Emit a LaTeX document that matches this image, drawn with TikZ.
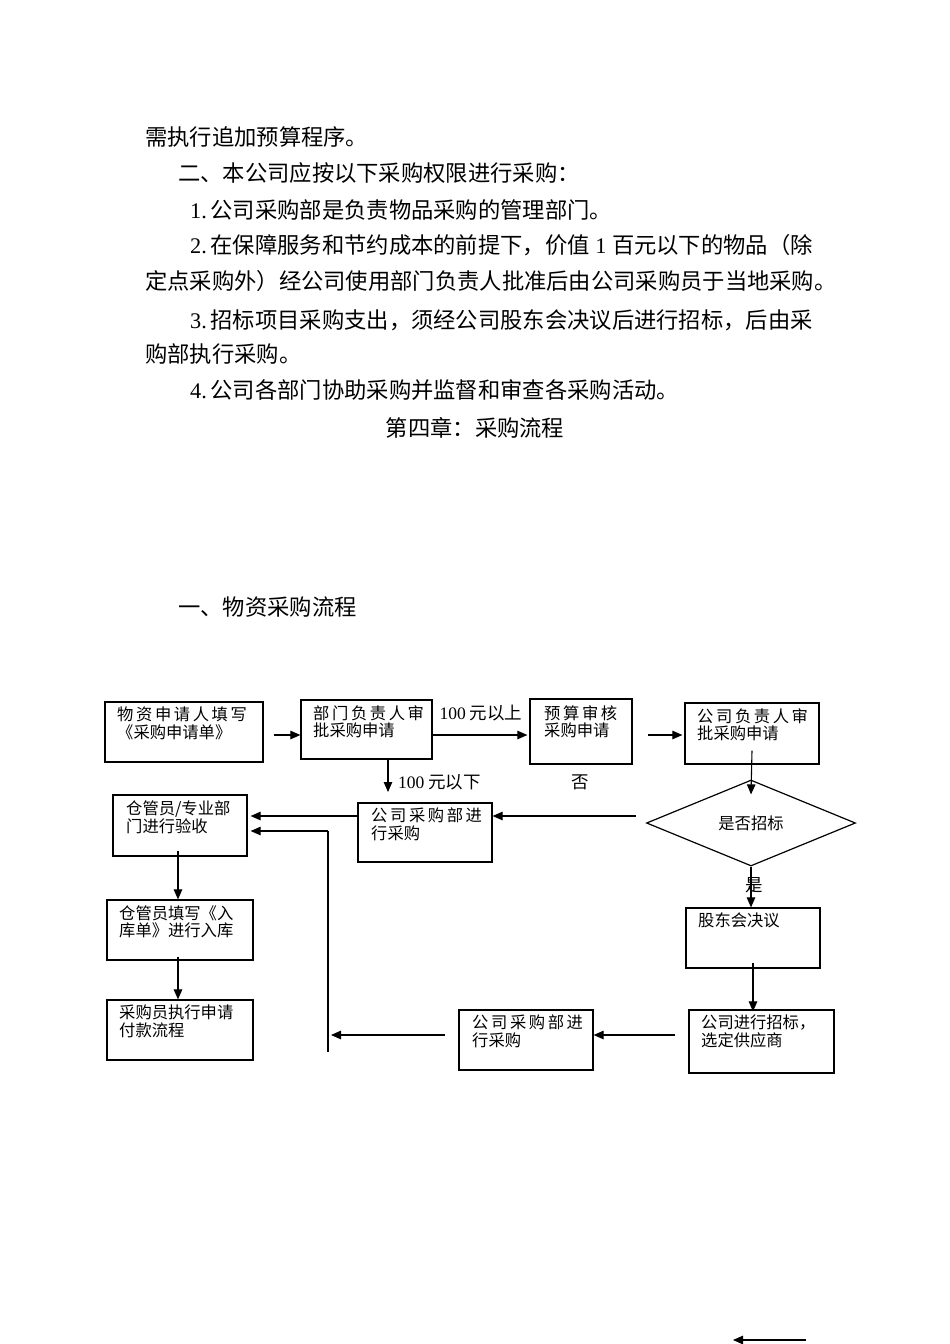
\documentclass[tikz,border=0pt]{standalone}
\usepackage{fontspec}
\setmainfont{Noto Sans CJK SC}
\newfontfamily\lat{Liberation Serif}
\usetikzlibrary{arrows.meta,shapes.geometric,calc}
\newcommand\gp{\kern2.6pt}
\begin{document}
\begin{tikzpicture}[x=1pt,y=-1pt,
  body/.style={anchor=west,inner sep=0pt,font=\fontsize{22.3}{23}\selectfont},
  box/.style n args={2}{draw,line width=1.2pt,minimum width=#1,minimum height=#2,inner sep=0pt},
  txt/.style={anchor=north west,inner sep=0pt,align=left,font=\fontsize{16.3}{17.5}\selectfont},
  lbl/.style={inner sep=0pt,font=\fontsize{17.5}{18}\selectfont},
  arr/.style={line width=1.1pt,-{Triangle[length=10pt,width=8.5pt]}},
  ln/.style={line width=1.1pt}]
\useasboundingbox (0,0) rectangle (950,1344);
\fill[white] (0,0) rectangle (950,1344);

% body text
\node[body] (p1) at (145,137) {需执行追加预算程序。};
\node[body] (p2) at (178,173) {二、本公司应按以下采购权限进行采购：};
\node[body] (p3) at (190,210) {{\lat 1.\,}公司采购部是负责物品采购的管理部门。};
\node[body] (p4) at (190,245) {{\lat 2.\,}在保障服务和节约成本的前提下，价值{\lat\ 1\ }百元以下的物品（除};
\node[body] (p5) at (145,281) {定点采购外）经公司使用部门负责人批准后由公司采购员于当地采购。};
\node[body] (p6) at (190,320) {{\lat 3.\,}招标项目采购支出，须经公司股东会决议后进行招标，后由采};
\node[body] (p7) at (145,354) {购部执行采购。};
\node[body] (p8) at (190,390) {{\lat 4.\,}公司各部门协助采购并监督和审查各采购活动。};
\node[body,anchor=center] (h1) at (475,428) {第四章：采购流程};
\node[body] (h2) at (178,607) {一、物资采购流程};

% boxes
\node[box={158pt}{60pt}] (b1) at (184,732) {};
\node[box={131pt}{59pt}] (b2) at (366.5,729.5) {};
\node[box={102pt}{65pt}] (b3) at (581,731.5) {};
\node[box={134pt}{61pt}] (b4) at (752,733.5) {};
\node[draw,diamond,line width=1.2pt,minimum width=209pt,minimum height=86pt,inner sep=0pt,font=\fontsize{16.3}{17}\selectfont] (dia) at (751,823) {是否招标};
\node[box={134pt}{59pt}] (b5) at (425,832.5) {};
\node[box={134pt}{61pt}] (b6) at (180,825.5) {};
\node[box={146pt}{60pt}] (b7) at (180,930) {};
\node[box={146pt}{60pt}] (b8) at (180,1030) {};
\node[box={134pt}{60pt}] (b9) at (753,938) {};
\node[box={145pt}{63pt}] (b10) at (761.5,1041.5) {};
\node[box={134pt}{60pt}] (b11) at (526,1040) {};

% box texts
\node[txt] (t1) at (117,707) {物\gp 资\gp 申\gp 请\gp 人\gp 填\gp 写\\《采购申请单》};
\node[txt] (t2) at (313,705) {部\gp 门\gp 负\gp 责\gp 人\gp 审\\批采购申请};
\node[txt] (t3) at (544,705) {预\gp 算\gp 审\gp 核\\采购申请};
\node[txt] (t4) at (697,708) {公\gp 司\gp 负\gp 责\gp 人\gp 审\\批采购申请};
\node[txt] (t5) at (371,808) {公\gp 司\gp 采\gp 购\gp 部\gp 进\\行采购};
\node[txt] (t6) at (126,801) {仓管员/专业部\\门进行验收};
\node[txt] (t7) at (119,905) {仓管员填写《入\\库单》进行入库};
\node[txt] (t8) at (119,1005) {采购员执行申请\\付款流程};
\node[txt] (t9) at (698,912) {股东会决议};
\node[txt] (t10) at (701,1015) {公司进行招标，\\选定供应商};
\node[txt] (t11) at (472,1015) {公\gp 司\gp 采\gp 购\gp 部\gp 进\\行采购};

% labels
\node[lbl] (l1) at (481,713) {{\lat 100} 元以上};
\node[lbl,anchor=west] (l2) at (398,782) {{\lat 100} 元以下};
\node[lbl] (l3) at (580,782) {否};
\node[lbl] (l4) at (754,885) {是};

% coordinates
\coordinate (c1) at (636,816);
\coordinate (c2) at (328,831);
\coordinate (c3) at (328,1052);
\coordinate (c4) at (445,1035);
\coordinate (c5) at (806,1340);
\coordinate (c6) at (733,1340);
\coordinate (c7) at (388,792);

% connectors
\draw[arr] ($(b1.east)+(10,3)$) -- ($(b1.east -| b2.west)+(0,3)$);
\draw[arr] ($(b2.east)+(0,5.5)$) -- ($(b2.east -| b3.west)+(-2,5.5)$);
\draw[arr] ($(b3.east)+(15,3.5)$) -- ($(b3.east -| b4.west)+(-2,3.5)$);
\draw[arr] (b2.south -| c7) -- (c7);
\draw[arr] ($(b4.south)+(0,-14)$) -- ($(dia.north)+(0,15)$);
\draw[arr] (c1) -- (c1 -| b5.east);
\draw[arr] (b5.west |- c1) -- ($(b6.east |- c1)+(3,0)$);
\draw[ln] (c3) -- (c2);
\draw[arr] (c2) -- ($(b6.east |- c2)+(3,0)$);
\draw[arr] ($(b6.south)+(-2,-6)$) -- ($(b7.north)+(-2,0)$);
\draw[arr] ($(b7.south)+(-2,-4)$) -- ($(b8.north)+(-2,0)$);
\draw[arr] (dia.south) -- (dia.south |- b9.north);
\draw[arr] ($(b9.south)+(0,-6)$) -- ($(b9.south |- b10.north)+(0,2)$);
\draw[arr] ($(b10.west)+(-13,-6.5)$) -- ($(b11.east)+(0,-5)$);
\draw[arr] (c4) -- ($(c4 -| c2)+(3,0)$);
\draw[arr] (c5) -- (c6);
\end{tikzpicture}
\end{document}
